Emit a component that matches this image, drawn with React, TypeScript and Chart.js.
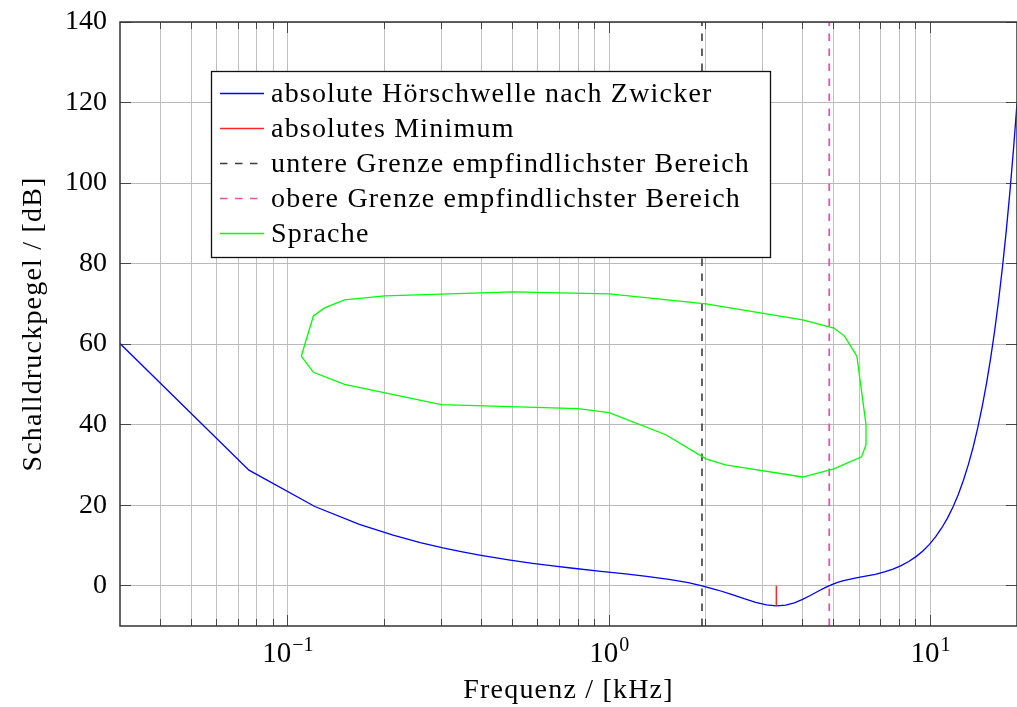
import React, { useEffect, useRef } from 'react';
import { Chart, registerables } from 'chart.js';

Chart.register(...registerables);

const SERIF = '"Liberation Serif", "Times New Roman", serif';

// Absolute threshold of hearing after Zwicker (sampled curve)
const THRESHOLD_FREQ_KHZ = [
  0.03, 0.0756, 0.1212, 0.1668, 0.2124, 0.258, 0.3036, 0.3492, 0.3948, 0.486,
  0.5772, 0.6684, 0.7596, 0.942, 1.1244, 1.3068, 1.5348, 1.7628, 1.9452, 2.1732,
  2.4012, 2.6292, 2.8572, 3.0852, 3.3132, 3.5412, 3.7692, 3.9972, 4.2252, 4.4532,
  4.6812, 4.9092, 5.1372, 5.3652, 5.8212, 6.2772, 6.7332, 7.1892, 7.6452, 8.1012,
  8.5572, 9.0132, 9.4692, 9.9252, 10.3812, 10.8372, 11.2932, 11.7492, 12.2052, 12.6612,
  13.1172, 13.5732, 14.0292, 14.4852, 14.9412, 15.3972, 15.8532, 16.3092, 16.7652, 17.2212,
  17.6772, 18.1332, 18.5892,
];
const THRESHOLD_LEVEL_DB = [
  60.16, 28.71, 19.68, 15.23, 12.55, 10.73, 9.42, 8.41, 7.62, 6.43,
  5.57, 4.92, 4.4, 3.59, 2.94, 2.34, 1.59, 0.75, -0.01, -1.06,
  -2.16, -3.23, -4.14, -4.75, -4.98, -4.8, -4.24, -3.4, -2.42, -1.43,
  -0.53, 0.23, 0.82, 1.27, 1.89, 2.36, 2.84, 3.42, 4.13, 4.99,
  6.02, 7.23, 8.64, 10.28, 12.17, 14.34, 16.79, 19.56, 22.68, 26.18,
  30.07, 34.39, 39.18, 44.46, 50.26, 56.61, 63.56, 71.14, 79.38, 88.32,
  98.01, 108.48, 119.76,
];

// Absolute minimum of the threshold
const MINIMUM_FREQ_KHZ = [3.313, 3.313];
const MINIMUM_LEVEL_DB = [-4.98, 0];

// Bounds of the most sensitive range
const LOWER_BOUND_FREQ_KHZ = [1.944, 1.944];
const UPPER_BOUND_FREQ_KHZ = [4.84, 4.84];
const BOUND_LEVEL_DB = [-10, 140];

// Speech area outline (closed)
const SPEECH_FREQ_KHZ = [
  0.11, 0.12, 0.13, 0.15, 0.2, 0.3, 0.5, 1.0, 2.0, 4.0, 5.0, 5.4, 5.9, 6.3, 6.3,
  6.1, 5.0, 4.0, 2.3, 2.0, 1.5, 1.0, 0.8, 0.3, 0.15, 0.12, 0.11,
];
const SPEECH_LEVEL_DB = [
  57, 67, 69, 71, 72, 72.4, 73, 72.5, 70, 66, 64, 62, 57, 40, 35,
  32, 29, 27, 30, 31.5, 37.5, 43, 44, 45, 50, 53, 57,
];

// Axes
const X_RANGE_KHZ = [0.03, 18.59];
const Y_RANGE_DB = [-10, 140];
const X_GRID_KHZ = [
  0.04, 0.05, 0.06, 0.07, 0.08, 0.09,
  0.1, 0.2, 0.3, 0.4, 0.5, 0.6, 0.7, 0.8, 0.9,
  1, 2, 3, 4, 5, 6, 7, 8, 9, 10,
];
const X_DECADES_KHZ = [0.1, 1, 10];
const X_DECADE_EXPONENTS = ['\u22121', '0', '1'];
const Y_TICKS_DB = [0, 20, 40, 60, 80, 100, 120, 140];

const X_TITLE = 'Frequenz / [kHz]';
const Y_TITLE = 'Schalldruckpegel / [dB]';

const pts = (xs: number[], ys: number[]) => xs.map((x, i) => ({ x, y: ys[i] }));

const align = (p: number) => Math.round(p - 0.5) + 0.5;

const framePlugin = {
  id: 'frame',
  afterDatasetsDraw(chart: any) {
    const { ctx, chartArea: a, scales } = chart;
    const xs = scales.x;
    const ys = scales.y;
    ctx.save();
    ctx.strokeStyle = 'rgba(50,50,50,0.85)';
    ctx.lineWidth = 1;
    ctx.beginPath();
    for (const v of X_GRID_KHZ) {
      const px = align(xs.getPixelForValue(v));
      const len = X_DECADES_KHZ.includes(v) ? 11 : 7;
      ctx.moveTo(px, a.bottom);
      ctx.lineTo(px, a.bottom - len);
      ctx.moveTo(px, a.top);
      ctx.lineTo(px, a.top + len);
    }
    for (const v of Y_TICKS_DB) {
      const py = align(ys.getPixelForValue(v));
      ctx.moveTo(a.left, py);
      ctx.lineTo(a.left + 11, py);
      ctx.moveTo(a.right, py);
      ctx.lineTo(a.right - 11, py);
    }
    ctx.stroke();
    ctx.strokeStyle = '#333';
    ctx.lineWidth = 1.5;
    ctx.strokeRect(a.left, a.top, a.right - a.left, a.bottom - a.top);
    ctx.restore();
  },
  afterDraw(chart: any) {
    const { ctx, chartArea: a, scales } = chart;
    const xs = scales.x;
    ctx.save();
    ctx.fillStyle = '#000';
    ctx.textAlign = 'left';
    ctx.textBaseline = 'alphabetic';

    // decade labels 10^n
    X_DECADES_KHZ.forEach((v, i) => {
      const px = xs.getPixelForValue(v);
      ctx.font = `29px ${SERIF}`;
      const wBase = ctx.measureText('10').width;
      ctx.font = `20px ${SERIF}`;
      const wExp = ctx.measureText(X_DECADE_EXPONENTS[i]).width;
      const start = px - (wBase + 1 + wExp) / 2;
      ctx.font = `29px ${SERIF}`;
      ctx.fillText('10', start, 662);
      ctx.font = `20px ${SERIF}`;
      ctx.fillText(X_DECADE_EXPONENTS[i], start + wBase + 1, 651);
    });

    // axis titles
    (ctx as any).letterSpacing = '1.2px';
    ctx.font = `28px ${SERIF}`;
    ctx.textAlign = 'center';
    ctx.fillText(X_TITLE, (a.left + a.right) / 2, 698);
    ctx.save();
    ctx.translate(41, (a.top + a.bottom) / 2);
    ctx.rotate(-Math.PI / 2);
    ctx.fillText(Y_TITLE, 0, 0);
    ctx.restore();

    // legend
    const box = { x: 211.5, y: 71.5, w: 559, h: 186 };
    ctx.fillStyle = '#fff';
    ctx.fillRect(box.x, box.y, box.w, box.h);
    ctx.strokeStyle = '#111';
    ctx.lineWidth = 1.3;
    ctx.strokeRect(box.x, box.y, box.w, box.h);
    ctx.textAlign = 'left';
    chart.data.datasets.forEach((ds: any, i: number) => {
      const base = 102 + i * 35;
      const ly = base - 8.5;
      ctx.save();
      ctx.strokeStyle = ds.borderColor;
      ctx.lineWidth = ds.borderWidth;
      ctx.setLineDash(ds.borderDash || []);
      ctx.beginPath();
      ctx.moveTo(220, ly);
      ctx.lineTo(264, ly);
      ctx.stroke();
      ctx.restore();
      ctx.fillStyle = '#000';
      ctx.fillText(ds.label, 271, base);
    });
    ctx.restore();
  },
};

export default function App() {
  const ref = useRef<HTMLCanvasElement | null>(null);

  useEffect(() => {
    if (!ref.current) return;
    const line = { showLine: true, pointRadius: 0, pointHoverRadius: 0, tension: 0, fill: false };
    const chart = new Chart(ref.current, {
      type: 'scatter',
      data: {
        datasets: [
          {
            ...line,
            label: 'absolute Hörschwelle nach Zwicker',
            data: pts(THRESHOLD_FREQ_KHZ, THRESHOLD_LEVEL_DB),
            borderColor: 'rgb(0,0,255)',
            borderWidth: 1.3,
            order: 5,
          },
          {
            ...line,
            label: 'absolutes Minimum',
            data: pts(MINIMUM_FREQ_KHZ, MINIMUM_LEVEL_DB),
            borderColor: 'rgb(255,40,40)',
            borderWidth: 1.5,
            order: 4,
          },
          {
            ...line,
            label: 'untere Grenze empfindlichster Bereich',
            data: pts(LOWER_BOUND_FREQ_KHZ, BOUND_LEVEL_DB),
            borderColor: 'rgb(60,60,60)',
            borderWidth: 1.6,
            borderDash: [7.5, 7.5],
            order: 3,
          },
          {
            ...line,
            label: 'obere Grenze empfindlichster Bereich',
            data: pts(UPPER_BOUND_FREQ_KHZ, BOUND_LEVEL_DB),
            borderColor: 'rgb(232,80,160)',
            borderWidth: 1.7,
            borderDash: [7.5, 7.5],
            order: 2,
          },
          {
            ...line,
            label: 'Sprache',
            data: pts(SPEECH_FREQ_KHZ, SPEECH_LEVEL_DB),
            borderColor: 'rgb(0,255,0)',
            borderWidth: 1.3,
            order: 1,
          },
        ],
      },
      options: {
        animation: false,
        responsive: false,
        devicePixelRatio: 1,
        events: [],
        layout: { padding: { top: 22, right: 0, bottom: 0, left: 0 } },
        plugins: {
          legend: { display: false },
          tooltip: { enabled: false },
          title: { display: false },
        },
        scales: {
          x: {
            type: 'logarithmic',
            min: X_RANGE_KHZ[0],
            max: X_RANGE_KHZ[1],
            afterBuildTicks: (s: any) => {
              s.ticks = X_GRID_KHZ.map((v) => ({ value: v }));
            },
            afterFit: (s: any) => {
              s.height = 81;
              s.paddingLeft = 0;
              s.paddingRight = 0;
            },
            ticks: { display: false, autoSkip: false },
            grid: { color: 'rgb(192,192,192)', lineWidth: 1, drawTicks: false },
            border: { display: false },
          },
          y: {
            type: 'linear',
            min: Y_RANGE_DB[0],
            max: Y_RANGE_DB[1],
            afterBuildTicks: (s: any) => {
              s.ticks = Y_TICKS_DB.map((v) => ({ value: v }));
            },
            afterFit: (s: any) => {
              s.width = 120;
              s.paddingTop = 0;
              s.paddingBottom = 0;
            },
            ticks: {
              autoSkip: false,
              padding: 13,
              color: '#000',
              font: { family: SERIF, size: 28 },
            },
            grid: { color: 'rgb(185,185,185)', lineWidth: 1, drawTicks: false },
            border: { display: false },
          },
        },
      },
      plugins: [framePlugin],
    } as any);
    return () => chart.destroy();
  }, []);

  return (
    <div style={{ position: 'fixed', left: 0, top: 0, width: 1017, height: 707, background: '#fff' }}>
      <canvas ref={ref} width={1017} height={707} style={{ display: 'block', width: 1017, height: 707 }} />
    </div>
  );
}
